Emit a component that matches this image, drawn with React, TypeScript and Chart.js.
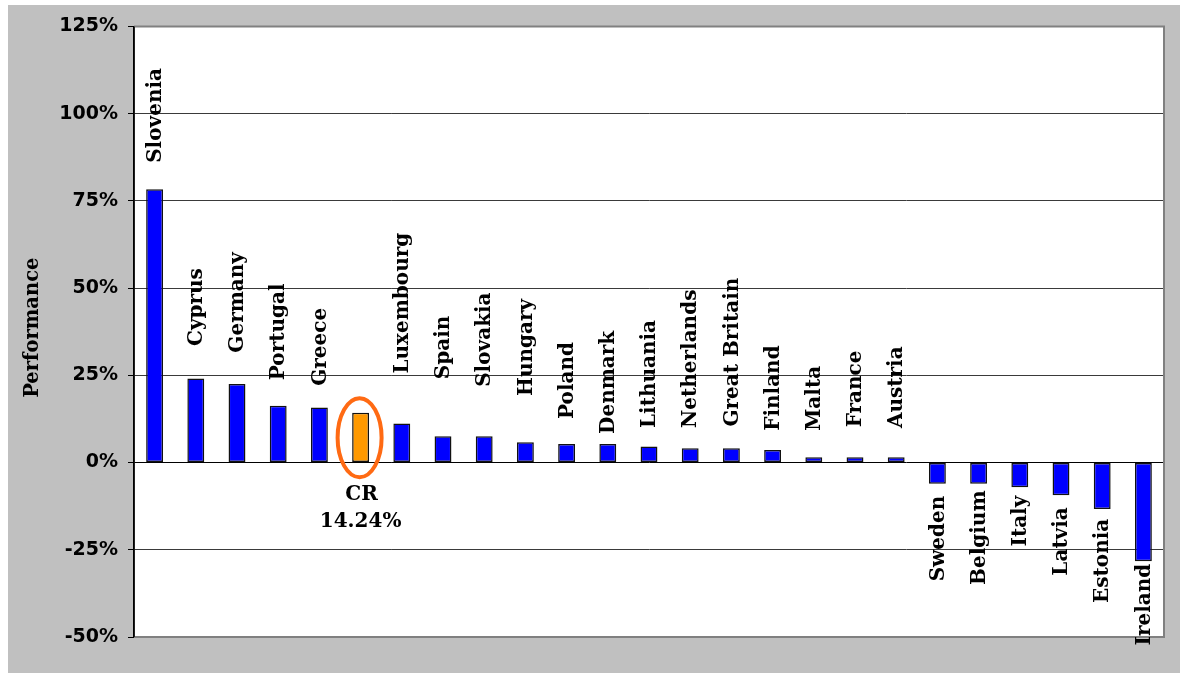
import React, { useEffect, useRef } from "react";
import { Chart, registerables } from "chart.js";

Chart.register(...registerables);

const categories = [
  "Slovenia", "Cyprus", "Germany", "Portugal", "Greece", "CR", "Luxembourg",
  "Spain", "Slovakia", "Hungary", "Poland", "Denmark", "Lithuania", "Netherlands",
  "Great Britain", "Finland", "Malta", "France", "Austria", "Sweden", "Belgium",
  "Italy", "Latvia", "Estonia", "Ireland",
];

const performance = [
  78.3, 24.1, 22.5, 16.3, 15.8, 14.24, 11.2, 7.5, 7.5, 5.8, 5.3, 5.3, 4.6, 4.1,
  4.1, 3.6, 1.5, 1.5, 1.5, -6.1, -6.1, -7.1, -9.4, -13.3, -28.3,
];

// value (in %) where each rotated country label starts (positive) or ends (negative)
const labelAnchor = [
  85.9, 33.4, 31.5, 23.6, 22.0, 0, 25.5, 23.9, 21.7, 19.1, 12.5, 8.2, 9.9, 9.9,
  10.3, 9.1, 9.1, 10.1, 9.9, -9.5, -8.0, -9.5, -12.8, -16.1, -29.0,
];

const highlightCategory = "CR";
const highlightText = ["CR", "14.24%"];
const yMin = -50;
const yMax = 125;
const yStep = 25;
const yTitle = "Performance";

const SERIF = '"DejaVu Serif", serif';
const SANS = '"DejaVu Sans", sans-serif';

export default function App() {
  const ref = useRef<HTMLCanvasElement | null>(null);

  useEffect(() => {
    if (!ref.current) return;
    const hi = categories.indexOf(highlightCategory);

    const decor = {
      id: "decor",
      beforeDraw(chart: any) {
        const { ctx, chartArea: a } = chart;
        ctx.save();
        ctx.fillStyle = "#ffffff";
        ctx.fillRect(a.left, a.top, a.right - a.left, a.bottom - a.top);
        ctx.restore();
      },
      afterDraw(chart: any) {
        const { ctx, chartArea: a } = chart;
        const y = chart.scales.y;
        const meta = chart.getDatasetMeta(0);
        ctx.save();
        // frame (top, right, bottom)
        ctx.strokeStyle = "#808080";
        ctx.lineWidth = 2;
        ctx.beginPath();
        ctx.moveTo(a.left, a.top);
        ctx.lineTo(a.right, a.top);
        ctx.lineTo(a.right, a.bottom);
        ctx.lineTo(a.left, a.bottom);
        ctx.stroke();
        // left axis
        ctx.strokeStyle = "#000";
        ctx.lineWidth = 1.5;
        ctx.beginPath();
        ctx.moveTo(a.left, a.top);
        ctx.lineTo(a.left, a.bottom);
        ctx.stroke();

        // country labels
        ctx.fillStyle = "#000";
        ctx.font = `bold 20px ${SERIF}`;
        ctx.textBaseline = "middle";
        meta.data.forEach((bar: any, i: number) => {
          if (i === hi) return;
          const py = y.getPixelForValue(labelAnchor[i]);
          ctx.save();
          ctx.translate(bar.x, py);
          ctx.rotate(-Math.PI / 2);
          ctx.textAlign = performance[i] >= 0 ? "left" : "right";
          ctx.fillText(categories[i], 0, 1);
          ctx.restore();
        });

        // highlight
        if (hi >= 0) {
          const bar: any = meta.data[hi];
          const cy = (y.getPixelForValue(performance[hi]) + y.getPixelForValue(0)) / 2;
          ctx.strokeStyle = "#ff6a13";
          ctx.lineWidth = 4;
          ctx.beginPath();
          ctx.ellipse(bar.x - 1, cy, 22, 39.5, 0, 0, Math.PI * 2);
          ctx.stroke();
          const zero = y.getPixelForValue(0);
          ctx.fillStyle = "#000";
          ctx.textAlign = "center";
          ctx.textBaseline = "middle";
          ctx.font = `bold 20px ${SERIF}`;
          ctx.fillText(highlightText[0], bar.x + 1, zero + 32);
          ctx.fillText(highlightText[1], bar.x, zero + 59);
        }

        // y title
        ctx.save();
        ctx.translate(25, (a.top + a.bottom) / 2 - 4);
        ctx.rotate(-Math.PI / 2);
        ctx.textAlign = "center";
        ctx.textBaseline = "middle";
        ctx.font = `bold 19.5px ${SERIF}`;
        ctx.fillStyle = "#000";
        ctx.fillText(yTitle, 0, 0);
        ctx.restore();
        ctx.restore();
      },
    };

    const chart = new Chart(ref.current, {
      type: "bar",
      data: {
        labels: categories,
        datasets: [
          {
            data: performance,
            backgroundColor: categories.map((c) => (c === highlightCategory ? "#ff9900" : "#0000ff")),
            borderColor: "#111111",
            borderWidth: 1.5,
            borderSkipped: false,
            barPercentage: 0.41,
            categoryPercentage: 1,
          },
        ],
      },
      options: {
        animation: false,
        responsive: false,
        maintainAspectRatio: false,
        layout: { padding: { top: 20, right: 16, bottom: 36, left: 0 } },
        plugins: { legend: { display: false }, tooltip: { enabled: false } },
        scales: {
          x: { display: false, offset: true },
          y: {
            min: yMin,
            max: yMax,
            afterFit(scale: any) {
              scale.width = 126;
            },
            ticks: {
              stepSize: yStep,
              callback: (v: any) => `${v}%`,
              color: "#000",
              font: { family: SANS, size: 19, weight: "bold" },
              padding: 10,
            },
            grid: {
              color: (c: any) => (c.tick && c.tick.value === 0 ? "#000" : "#3a3a3a"),
              tickColor: "#000",
              tickLength: 6,
              lineWidth: 1,
            },
            border: { color: "#000", width: 1.5 },
          },
        },
      },
      plugins: [decor],
    });
    return () => chart.destroy();
  }, []);

  return (
    <div
      style={{
        position: "absolute",
        left: 8,
        top: 5,
        width: 1172,
        height: 668,
        background: "#c0c0c0",
      }}
    >
      <canvas ref={ref} width={1172} height={668} style={{ display: "block" }} />
    </div>
  );
}
